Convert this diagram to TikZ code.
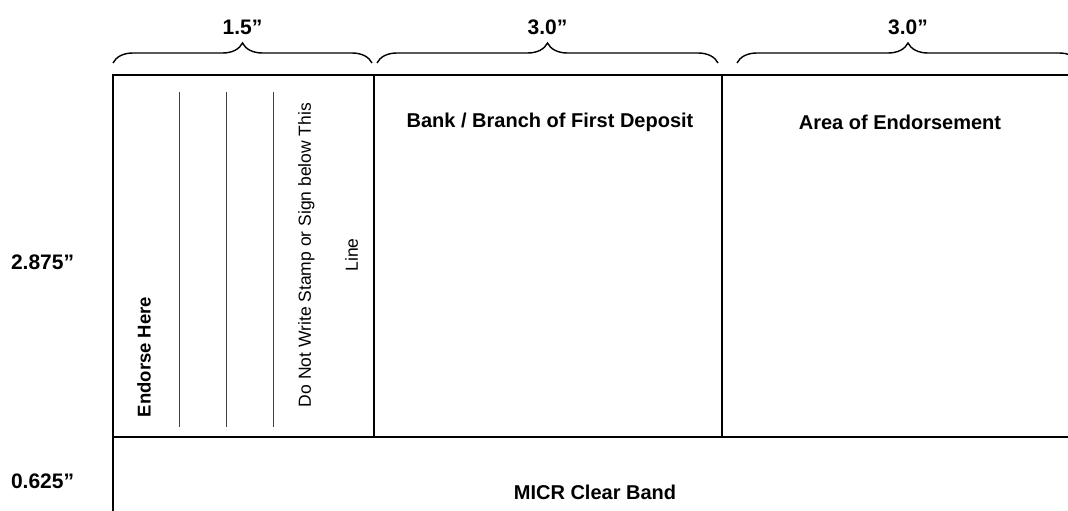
\documentclass[tikz,border=0pt]{standalone}
\usepackage{fontspec}
\setmainfont{Liberation Sans}
\usetikzlibrary{decorations.pathreplacing}

\begin{document}
\begin{tikzpicture}[x=1pt, y=-1pt, line width=1.4pt,
    lbl/.style={font=\fontsize{20}{24}\selectfont\bfseries},
    dim/.style={font=\fontsize{21}{25}\selectfont\bfseries},
    brc/.style={decorate, decoration={brace, amplitude=20pt}}]
        \useasboundingbox (0,0) rectangle (1068,511);

        % endorsement box (1.5") and the two 3.0" areas
        \draw (113,75) rectangle (374,437);
        \draw (374,75) -- (1068,75);
        \draw (722,75) -- (722,437);

        % MICR clear band
        \draw (113,437) -- (1068,437);
        \draw (113,437) -- (113,511);

        % signature lines
        \foreach \x in {179,226,273}
            \draw[line width=0.7pt, black!75] (\x,92) -- (\x,427);

        % braces and widths above
        \draw[brc] (113,63) -- (372,63) node[midway, above=24pt, dim] (w1) {1.5”};
        \draw[brc] (377,63) -- (718,63) node[midway, above=24pt, dim] (w2) {3.0”};
        \draw[brc] (737,63) -- (1079,63) node[midway, above=24pt, dim] (w3) {3.0”};

        % heights on the left
        \node[dim, anchor=west] (h1) at (7,262) {2.875”};
        \node[dim, anchor=west] (h2) at (7,481) {0.625”};

        % texts in the areas
        \node[font=\fontsize{18.5}{22}\selectfont\bfseries, rotate=90] (endorse) at (144,357) {Endorse Here};
        \node[font=\fontsize{17.5}{47}\selectfont, rotate=90, align=center] (nowrite) at (328,255) {Do Not Write Stamp or Sign below This\\Line};
        \node[lbl] (bank) at (550,122) {Bank / Branch of First Deposit};
        \node[lbl] (area) at (900,122) {Area of Endorsement};
        \node[lbl] (micr) at (595,492) {MICR Clear Band};
    \end{tikzpicture}
\end{document}
